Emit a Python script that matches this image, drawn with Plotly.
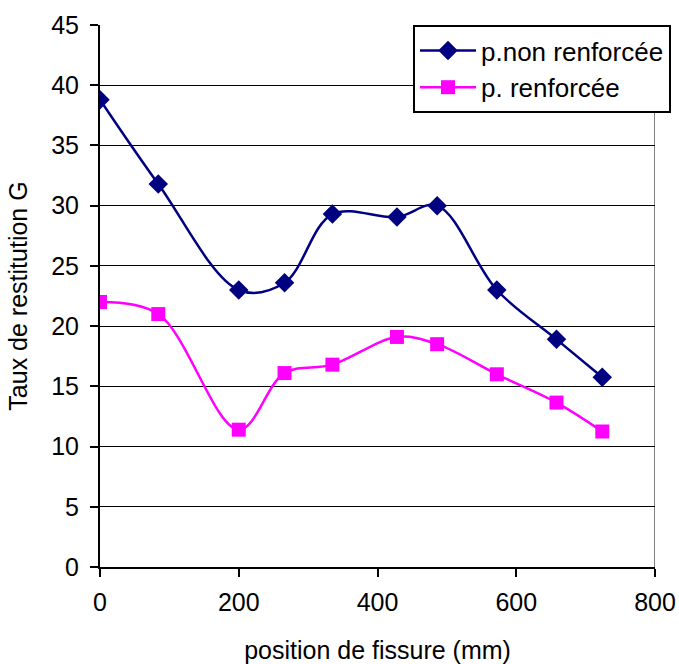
import plotly.graph_objects as go

positions = [0, 84, 200, 266, 335, 428, 486, 572, 658, 724]
non_renforcee = [38.8, 31.8, 23.0, 23.6, 29.3, 29.05, 30.0, 23.0, 18.9, 15.75]
renforcee = [22.0, 21.0, 11.4, 16.1, 16.8, 19.1, 18.5, 16.0, 13.65, 11.25]
x_ticks = [0, 200, 400, 600, 800]
y_ticks = [0, 5, 10, 15, 20, 25, 30, 35, 40, 45]

FONT = "Liberation Sans, Arial, sans-serif"

fig = go.Figure()
fig.add_trace(go.Scatter(
    x=positions, y=non_renforcee, name="p.non renforcée",
    mode="lines+markers",
    line=dict(color="#000080", width=2.5, shape="spline", smoothing=1),
    marker=dict(symbol="diamond", size=15, color="#000080"),
))
fig.add_trace(go.Scatter(
    x=positions, y=renforcee, name="p. renforcée",
    mode="lines+markers",
    line=dict(color="#FF00FF", width=2.5, shape="spline", smoothing=1),
    marker=dict(symbol="square", size=14, color="#FF00FF"),
))

fig.add_shape(type="line", xref="x", yref="y", x0=800, x1=800, y0=0, y1=45,
              line=dict(color="#808080", width=2), layer="below")

fig.update_layout(
    width=679, height=664,
    margin=dict(l=100, r=24, t=25, b=97, autoexpand=False),
    paper_bgcolor="white", plot_bgcolor="white",
    font=dict(family=FONT, size=25, color="black"),
    showlegend=True,
    legend=dict(
        x=0.564, y=1.0, xanchor="left", yanchor="top",
        bgcolor="white", bordercolor="black", borderwidth=2,
        font=dict(family=FONT, size=26, color="black"),
        itemwidth=56, tracegroupgap=0,
    ),
    xaxis=dict(
        range=[0, 800], tickvals=x_ticks, ticktext=[str(v) for v in x_ticks],
        showgrid=False, zeroline=False, automargin=False,
        showline=True, linecolor="black", linewidth=2,
        ticks="outside", ticklen=8, tickwidth=2, tickcolor="black",
        tickfont=dict(family=FONT, size=25), ticklabelstandoff=4,
        title=dict(text="position de fissure (mm)", font=dict(family=FONT, size=25), standoff=26),
    ),
    yaxis=dict(
        range=[0, 45], tickvals=y_ticks, ticktext=[str(v) for v in y_ticks],
        showgrid=True, gridcolor="black", gridwidth=1,
        zeroline=False, automargin=False,
        showline=True, linecolor="black", linewidth=2,
        ticks="outside", ticklen=8, tickwidth=2, tickcolor="black",
        tickfont=dict(family=FONT, size=25), ticklabelstandoff=6,
        title=dict(text="Taux de restitution G", font=dict(family=FONT, size=25), standoff=16),
    ),
)

fig.write_html("out.html")
